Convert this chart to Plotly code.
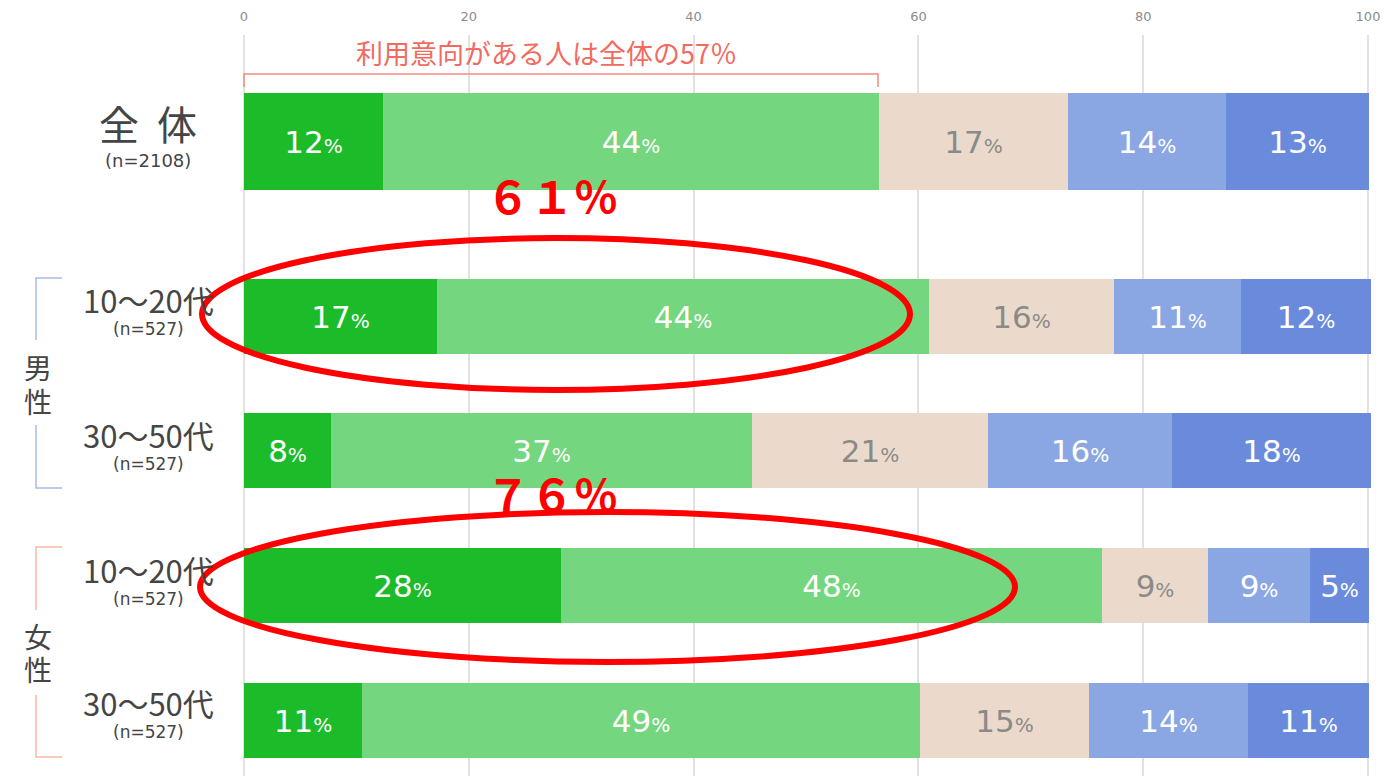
import plotly.graph_objects as go

# ---------------- data ----------------
rows = ["全体", "男性10～20代", "男性30～50代", "女性10～20代", "女性30～50代"]
s1_vals = [12.4, 17.2, 7.7, 28.2, 10.5]
s2_vals = [44.1, 43.7, 37.5, 48.1, 49.6]
s3_vals = [16.8, 16.5, 21.0, 9.5, 15.1]
s4_vals = [14.1, 11.3, 16.4, 9.0, 14.1]
s5_vals = [12.7, 11.6, 17.7, 5.3, 10.8]
s1_lbl = [12, 17, 8, 28, 11]
s2_lbl = [44, 44, 37, 48, 49]
s3_lbl = [17, 16, 21, 9, 15]
s4_lbl = [14, 11, 16, 9, 14]
s5_lbl = [13, 12, 18, 5, 11]
x_ticks = [0, 20, 40, 60, 80, 100]
x_tick_text = ["0", "20", "40", "60", "80", "100"]

# ---------------- layout helpers (pixel geometry) ----------------
W, H = 1398, 776
TOP = 35
X0_PX, UNIT_PX = 244, 11.24           # pixel of value 0, pixels per unit


def xv(px):  # pixel -> x data value
    return (px - X0_PX) / UNIT_PX


def yv(py):  # pixel -> y data value
    return py - TOP


row_pos = [yv(141), yv(316), yv(450), yv(585), yv(720)]
row_width = [97, 75, 75, 75, 75]

colors = ["#1bbb29", "#74d67e", "#ebdacb", "#8aa6e3", "#6a8bdc"]
txt_colors = ["white", "white", "#8a8a8a", "white", "white"]
series = [(s1_vals, s1_lbl), (s2_vals, s2_lbl), (s3_vals, s3_lbl),
          (s4_vals, s4_lbl), (s5_vals, s5_lbl)]

NUMFONT = "DejaVu Sans"
JP = "Noto Sans CJK JP"

fig = go.Figure()
for (vals, lbls), c, tc in zip(series, colors, txt_colors):
    fig.add_trace(go.Bar(
        y=row_pos, x=vals, width=row_width, orientation="h",
        marker=dict(color=c, line=dict(width=0)),
        text=[f"{v}<span style='font-size:20px'>%</span>" for v in lbls],
        textposition="inside", insidetextanchor="middle", textangle=0,
        constraintext="none",
        insidetextfont=dict(family=NUMFONT, size=31, color=tc),
        hoverinfo="skip", showlegend=False,
    ))

shapes = []
red = "#ff0000"
# ellipses
shapes.append(dict(type="circle", xref="x", yref="y",
                   x0=xv(202), x1=xv(910), y0=yv(238), y1=yv(390),
                   line=dict(color=red, width=6), layer="above"))
shapes.append(dict(type="circle", xref="x", yref="y",
                   x0=xv(200), x1=xv(1015), y0=yv(512), y1=yv(662),
                   line=dict(color=red, width=6), layer="above"))
# top bracket
bc = "#f58a80"
shapes.append(dict(type="path", xref="x", yref="y",
                   path=f"M {xv(244)},{yv(87)} L {xv(244)},{yv(74)} L {xv(878)},{yv(74)} L {xv(878)},{yv(87)}",
                   line=dict(color=bc, width=1.5)))
# side brackets
male_c = "#a7bbe9"
fem_c = "#f7b9a3"
for (ya, yb, col) in [(278, 340, male_c), (547, 610, fem_c)]:
    shapes.append(dict(type="path", xref="x", yref="y",
                       path=f"M {xv(36)},{yv(yb)} L {xv(36)},{yv(ya)} L {xv(62)},{yv(ya)}",
                       line=dict(color=col, width=1.5)))
for (ya, yb, col) in [(425, 488, male_c), (695, 757, fem_c)]:
    shapes.append(dict(type="path", xref="x", yref="y",
                       path=f"M {xv(36)},{yv(ya)} L {xv(36)},{yv(yb)} L {xv(62)},{yv(yb)}",
                       line=dict(color=col, width=1.5)))

ann = []
dark = "#454545"


def add_text(px, py, text, size, color=dark, family=JP):
    ann.append(dict(x=xv(px), y=yv(py), xref="x", yref="y", text=text,
                    showarrow=False, xanchor="center", yanchor="middle",
                    font=dict(family=family, size=size, color=color)))


add_text(148, 123, "全  体", 40)
add_text(148, 160, "(n=2108)", 18, family=NUMFONT)
for py, name in [(299, "10～20代"), (434, "30～50代"), (569, "10～20代"), (702, "30～50代")]:
    add_text(148, py, name, 31)
    add_text(148, py + 30, "(n=527)", 17, family=NUMFONT)
add_text(38, 367, "男", 28)
add_text(38, 401, "性", 28)
add_text(38, 636, "女", 28)
add_text(38, 669, "性", 28)
add_text(546, 52, "利用意向がある人は全体の57％", 27, color="#f26a60")
add_text(552, 195, "<b>６１％</b>", 44, color=red)
add_text(552, 493, "<b>７６％</b>", 44, color=red)

fig.update_layout(
    width=W, height=H, template="none",
    barmode="stack", bargap=0,
    margin=dict(l=0, r=0, t=TOP, b=0, pad=0),
    paper_bgcolor="white", plot_bgcolor="white",
    shapes=shapes, annotations=ann,
    xaxis=dict(range=[xv(0), xv(W)], side="top", tickmode="array",
               tickvals=x_ticks, ticktext=x_tick_text,
               showgrid=True, gridcolor="#e2e2e2", gridwidth=2,
               zeroline=False, showline=False, ticks="", automargin=False,
               ticklabelstandoff=10,
               tickfont=dict(family=NUMFONT, size=13, color="#8c8c8c")),
    yaxis=dict(range=[yv(H), yv(TOP)], showgrid=False, zeroline=False,
               showticklabels=False, showline=False, ticks="", automargin=False),
)

fig.write_html("out.html", config={"displayModeBar": False},
               post_script="document.body.style.margin='0';document.body.style.overflow='hidden';")
